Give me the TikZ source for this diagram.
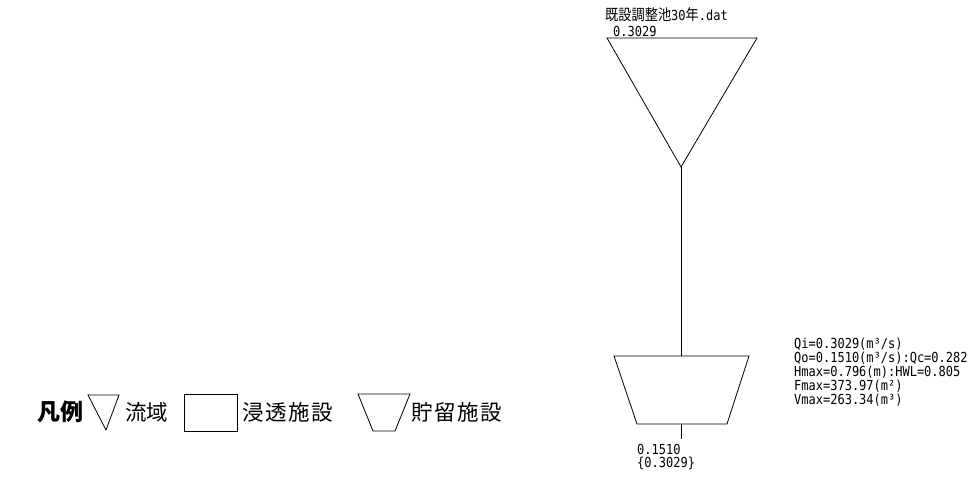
\documentclass[tikz,border=0pt]{standalone}
\usepackage{fontspec}
\usepackage{graphicx}
\setmainfont{Noto Sans CJK JP}
\newfontfamily\monof{DejaVu Sans Mono}
\newcommand{\tall}[1]{\scalebox{1}[1.15]{#1}}
\begin{document}
\begin{tikzpicture}[x=1pt,y=-1pt,
  shapeline/.style={draw=black,line width=0.8pt,line join=miter},
  small/.style={font=\fontsize{12}{10.4}\monof,inner sep=0pt,anchor=west},
  legendtxt/.style={font=\fontsize{21.5}{22}\selectfont,inner sep=0pt,anchor=west}]
\useasboundingbox (0,0) rectangle (968,478);
% catchment triangle
\coordinate (tl) at (607,38);
\coordinate (tr) at (757,38);
\coordinate (apex) at (681,167);
\draw[shapeline] (tl) -- (tr) -- (apex) -- cycle;
% storage trapezoid
\coordinate (ptl) at (614,356);
\coordinate (ptr) at (749,356);
\coordinate (pbr) at (727,424);
\coordinate (pbl) at (637,424);
\coordinate (ptop) at (681,356);
\coordinate (pbot) at (681,424);
\coordinate (outend) at (681,439);
\draw[shapeline] (ptl) -- (ptr) -- (pbr) -- (pbl) -- cycle;
\draw[shapeline] (apex) -- (ptop);
\draw[shapeline] (pbot) -- (outend);
% labels
\node[small] (name) at (605,15) {\tall{{\rmfamily\fontsize{13.2}{12}\selectfont 既設調整池}30{\rmfamily\fontsize{13.2}{12}\selectfont 年}.dat}};
\node[small] (qin) at (613,31) {\tall{0.3029}};
\node[small] (qout) at (637,449) {\tall{0.1510}};
\node[small] (qsum) at (637,463) {\tall{\{0.3029\}}};
\node[small] (res) at (794,373) {\tall{\begin{tabular}{@{}l@{}}Qi=0.3029(m³/s)\\Qo=0.1510(m³/s):Qc=0.282\\Hmax=0.796(m):HWL=0.805\\Fmax=373.97(m²)\\Vmax=263.34(m³)\end{tabular}}};
% legend
\node[legendtxt,font=\fontsize{23}{23}\selectfont\bfseries] (hanrei) at (37,412) {凡例};
\coordinate (l1a) at (88,395);
\coordinate (l1b) at (119,395);
\coordinate (l1c) at (106,430);
\draw[shapeline] (l1a) -- (l1b) -- (l1c) -- cycle;
\node[legendtxt] (lg1) at (125,412) {流域};
\coordinate (r1) at (184,394);
\coordinate (r2) at (237,431);
\draw[shapeline] (r1) rectangle (r2);
\node[legendtxt] (lg2) at (242,412) {浸\hspace{1.5pt}透\hspace{1.5pt}施\hspace{1.5pt}設};
\coordinate (t1) at (358,394);
\coordinate (t2) at (410,394);
\coordinate (t3) at (395,431);
\coordinate (t4) at (373,431);
\draw[shapeline] (t1) -- (t2) -- (t3) -- (t4) -- cycle;
\node[legendtxt] (lg3) at (411,412) {貯\hspace{1.5pt}留\hspace{1.5pt}施\hspace{1.5pt}設};
\end{tikzpicture}
\end{document}
